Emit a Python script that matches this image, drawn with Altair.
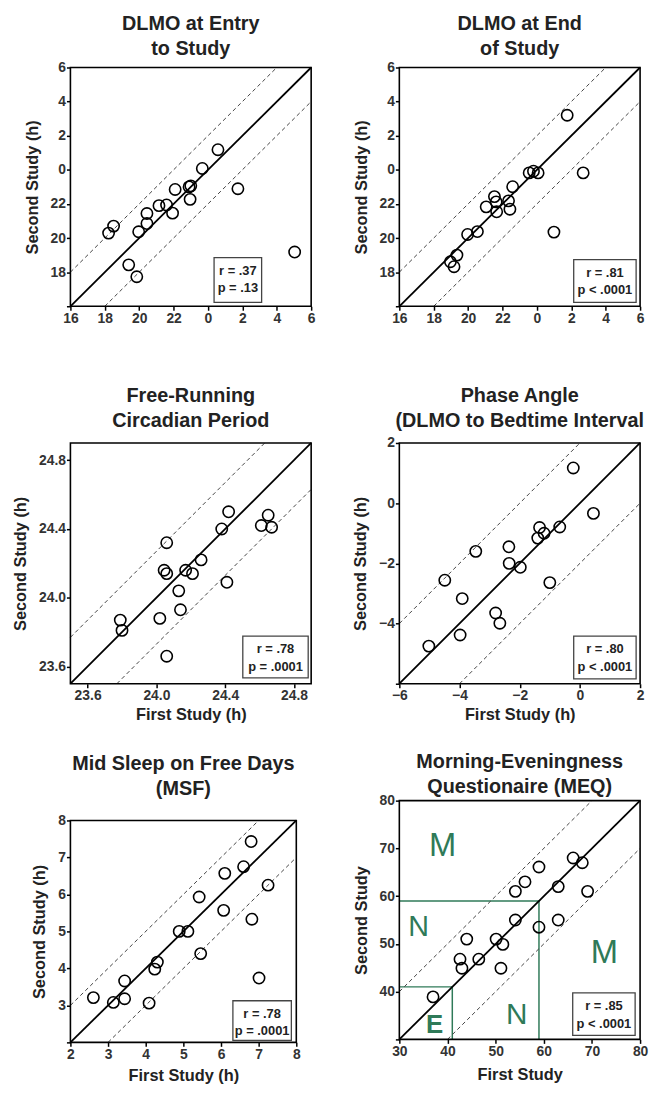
import altair as alt
import pandas as pd

# ---------------- data ----------------
# DLMO at entry (clock hours, values >= 24 are after midnight)
dlmo_entry_first = [18.22, 18.51, 19.39, 19.86, 19.97, 20.45, 20.45, 21.15, 21.59, 21.94,
                    22.09, 22.90, 23.00, 22.96, 23.67, 24.58, 25.74, 29.04]
dlmo_entry_second = [20.29, 20.70, 18.43, 17.73, 20.37, 20.85, 21.44, 21.90, 21.94, 21.46,
                     22.85, 23.00, 23.06, 22.27, 24.08, 25.18, 22.89, 19.18]
# DLMO at end of study
dlmo_end_first = [18.97, 19.18, 19.35, 19.97, 20.54, 21.05, 21.53, 21.63, 21.66, 22.35,
                  22.43, 22.59, 23.55, 23.80, 24.07, 25.76, 26.69, 24.99]
dlmo_end_second = [18.61, 18.32, 19.00, 20.21, 20.38, 21.83, 22.43, 22.12, 21.54, 22.18,
                   21.69, 23.01, 23.82, 23.92, 23.82, 27.20, 23.82, 20.35]
# Free-running circadian period
tau_first = [23.79, 23.80, 24.02, 24.06, 24.045, 24.06, 24.06, 24.13, 24.14, 24.17,
             24.21, 24.26, 24.38, 24.42, 24.41, 24.61, 24.65, 24.67]
tau_second = [23.87, 23.81, 23.88, 24.32, 24.16, 24.14, 23.66, 24.04, 23.93, 24.16,
              24.14, 24.22, 24.40, 24.50, 24.09, 24.42, 24.48, 24.41]
# Phase angle
pa_first = [-5.02, -4.49, -3.91, -3.98, -3.46, -2.80, -2.66, -2.36, -2.35, -1.98,
            -1.40, -1.34, -1.19, -1.00, -0.67, -0.22, 0.45]
pa_second = [-4.75, -2.56, -3.17, -4.38, -1.60, -3.65, -3.99, -1.45, -2.00, -2.13,
             -1.16, -0.81, -1.00, -2.64, -0.79, 1.17, -0.34]
# Mid sleep on free days
msf_first = [2.61, 3.14, 3.44, 3.44, 4.09, 4.24, 4.31, 4.89, 5.12, 5.42,
             5.46, 6.07, 6.10, 6.60, 6.80, 6.82, 7.01, 7.25]
msf_second = [3.21, 3.08, 3.66, 3.18, 3.06, 3.98, 4.17, 5.00, 5.00, 5.93,
              4.40, 5.57, 6.57, 6.75, 7.43, 5.33, 3.74, 6.25]
# MEQ
meq_first = [37.0, 42.6, 43.0, 44.0, 46.5, 50.1, 51.5, 51.1, 54.1, 54.1,
             56.1, 59.0, 59.0, 63.0, 63.0, 66.1, 68.0, 69.1]
meq_second = [38.9, 46.8, 44.9, 51.0, 46.8, 51.0, 49.9, 44.9, 55.0, 61.0,
              63.0, 66.1, 53.5, 55.0, 62.0, 68.0, 67.0, 61.0]

meq_cutoffs = [41, 59]
meq_letters = ["M", "N", "N", "M"]
meq_letter_x = [39.0, 34.0, 54.4, 72.6]
meq_letter_y = [70.5, 53.6, 35.0, 48.0]
meq_letter_size = [33, 29, 30, 33]
meq_e_letter = ["E"]
meq_e_x = [37.3]
meq_e_y = [33.0]

stats = [("r = .37", "p = .13"), ("r = .81", "p < .0001"), ("r = .78", "p = .0001"),
         ("r = .80", "p < .0001"), ("r = .78", "p = .0001"), ("r = .85", "p < .0001")]

FONT = "Liberation Sans"
GREEN = "#2f7a58"


def clock_x():
    return "'' + (datum.value >= 24 ? datum.value - 24 : datum.value)"


def clock_y():
    return "datum.value <= 16 ? '' : '' + (datum.value >= 24 ? datum.value - 24 : datum.value)"


def make_panel(first, second, lo, hi, band, ticks, title, xtitle, ytitle, stat,
               w, h, ytop, box, title_offset, xlabel_expr, ylabel_expr,
               xtitle_pad=8, extras=None):
    xscale = alt.Scale(domain=[lo, hi], nice=False, zero=False)
    yscale = alt.Scale(domain=[lo, hi], nice=False, zero=False, range=[h, ytop])
    xaxis = alt.Axis(values=ticks, title=xtitle, labelExpr=xlabel_expr,
                     titlePadding=xtitle_pad)
    yaxis = alt.Axis(values=ticks, title=ytitle, labelExpr=ylabel_expr)

    def X():
        return alt.X("x:Q", scale=xscale, axis=xaxis)

    def Y():
        return alt.Y("y:Q", scale=yscale, axis=yaxis)

    frame_df = pd.DataFrame({"x": [lo], "y": [lo], "x2": [hi], "y2": [hi]})
    frame = alt.Chart(frame_df).mark_rect(fill="transparent", stroke="black",
                                          strokeWidth=1.6).encode(
        x=X(), y=Y(), x2="x2:Q", y2="y2:Q")

    diag_df = pd.DataFrame({"x": [lo, hi], "y": [lo, hi]})
    diag = alt.Chart(diag_df).mark_line(color="black", strokeWidth=1.8).encode(x=X(), y=Y())

    dash_df = pd.DataFrame({
        "x": [lo, hi - band, lo + band, hi],
        "y": [lo + band, hi, lo, hi - band],
        "g": ["u", "u", "l", "l"],
    })
    dashed = alt.Chart(dash_df).mark_line(color="#444", strokeWidth=1,
                                          strokeDash=[4, 3]).encode(
        x=X(), y=Y(), detail="g:N")

    pts_df = pd.DataFrame({"x": first, "y": second})
    pts = alt.Chart(pts_df).mark_point(shape="circle", filled=False, size=130,
                                       color="black", strokeWidth=1.6, opacity=1).encode(
        x=X(), y=Y())

    bx1, by1, bx2, by2 = box
    one = pd.DataFrame({"a": [0]})
    boxm = alt.Chart(one).mark_rect(fill="white", stroke="#444", strokeWidth=1.3).encode(
        x=alt.value(bx1), x2=alt.value(bx2), y=alt.value(by1 + ytop), y2=alt.value(by2 + ytop))
    cx = (bx1 + bx2) / 2
    t1 = alt.Chart(one).mark_text(text=stat[0], font=FONT, fontSize=13, fontWeight="bold",
                                  color="#222", align="center", baseline="middle").encode(
        x=alt.value(cx), y=alt.value(by1 + ytop + 13))
    t2 = alt.Chart(one).mark_text(text=stat[1], font=FONT, fontSize=13, fontWeight="bold",
                                  color="#222", align="center", baseline="middle").encode(
        x=alt.value(cx), y=alt.value(by1 + ytop + 31))

    layers = []
    if extras is not None:
        layers += extras(X, Y, lo)
    layers += [dashed, diag, pts, frame, boxm, t1, t2]
    return alt.layer(*layers).properties(
        width=w, height=h,
        title=alt.TitleParams(text=title, font=FONT, fontSize=20, fontWeight="bold",
                              color="#222", lineHeight=25, anchor="middle",
                              offset=title_offset),
    )


def meq_extras(X, Y, lo):
    seg = []
    for c in meq_cutoffs:
        seg.append({"x": lo, "y": c, "x2": c, "y2": c})
        seg.append({"x": c, "y": lo, "x2": c, "y2": c})
    seg_df = pd.DataFrame(seg)
    rules = alt.Chart(seg_df).mark_rule(color=GREEN, strokeWidth=1.5).encode(
        x=X(), y=Y(), x2="x2:Q", y2="y2:Q")
    let_df = pd.DataFrame({"x": meq_letter_x, "y": meq_letter_y, "t": meq_letters,
                           "s": meq_letter_size})
    letters = alt.Chart(let_df).mark_text(font=FONT, color=GREEN, baseline="middle",
                                          align="center").encode(
        x=X(), y=Y(), text="t:N", size=alt.Size("s:Q", scale=None, legend=None))
    e_df = pd.DataFrame({"x": meq_e_x, "y": meq_e_y, "t": meq_e_letter})
    e_let = alt.Chart(e_df).mark_text(font=FONT, color=GREEN, baseline="middle",
                                      align="center", fontSize=26, fontWeight="bold").encode(
        x=X(), y=Y(), text="t:N")
    return [rules, letters, e_let]


fmt1 = "format(datum.value, '.1f')"

# row 2 views are taller than their plots (plot starts below the view top)
R2H, R2TOP = 263, 20
# row 3 left view: plot starts below the view top
R3H, R3TOP = 244, 20

p1 = make_panel(dlmo_entry_first, dlmo_entry_second, 16, 30, 2, list(range(16, 31, 2)),
                ["DLMO at Entry", "to Study"], None, "Second Study (h)", stats[0],
                243, 241, 0, (145, 192, 193, 237), 2, clock_x(), clock_y())
p2 = make_panel(dlmo_end_first, dlmo_end_second, 16, 30, 2, list(range(16, 31, 2)),
                ["DLMO at End", "of Study"], None, "Second Study (h)", stats[1],
                243, 241, 0, (176, 194, 239, 237), 2, clock_x(), clock_y())
p3 = make_panel(tau_first, tau_second, 23.5, 24.9, 0.27, [23.6, 24.0, 24.4, 24.8],
                ["Free-Running", "Circadian Period"], "First Study (h)", "Second Study (h)",
                stats[2], 243, R2H, R2TOP, (174, 195, 240, 237), -8, fmt1, fmt1,
                xtitle_pad=4)
p4 = make_panel(pa_first, pa_second, -6, 2, 2, [-6, -4, -2, 0, 2],
                ["Phase Angle", "(DLMO to Bedtime Interval"], "First Study (h)",
                "Second Study (h)", stats[3], 243, R2H, R2TOP, (176, 195, 239, 238), -8,
                "datum.label", "datum.value <= -6 ? '' : datum.label", xtitle_pad=4)
p5 = make_panel(msf_first, msf_second, 2, 8, 1, [2, 3, 4, 5, 6, 7, 8],
                ["Mid Sleep on Free Days", "(MSF)"], "First Study (h)", "Second Study (h)",
                stats[4], 228, R3H, R3TOP, (164, 182, 223, 222), 2,
                "datum.label", "datum.value <= 2 ? '' : datum.label", xtitle_pad=6)
p6 = make_panel(meq_first, meq_second, 30, 80, 10, [30, 40, 50, 60, 70, 80],
                ["Morning-Eveningness", "Questionaire (MEQ)"], "First Study", "Second Study",
                stats[5], 243, 241, 0, (175, 194, 238, 237), -3,
                "datum.label", "datum.value <= 30 ? '' : datum.label", xtitle_pad=8,
                extras=meq_extras)

chart = alt.concat(p1, p2, p3, p4, p5, p6, columns=2,
                   spacing={"row": 118, "column": 89},
                   bounds="flush", align="each").properties(
    padding={"left": 4, "top": 0, "right": 0, "bottom": 0}
).configure_view(stroke="transparent").configure_axis(
    labelFont=FONT, labelFontSize=14, labelFontWeight="bold", labelColor="#333",
    titleFont=FONT, titleFontSize=16.5, titleFontWeight="bold", titleColor="#222",
    tickColor="black", tickSize=4, tickWidth=1.5, labelPadding=1, titlePadding=10,
    grid=False, domain=False, labelFlush=False, labelOverlap=False
)

chart.save("out.html", embed_options={"renderer": "svg", "actions": False})
